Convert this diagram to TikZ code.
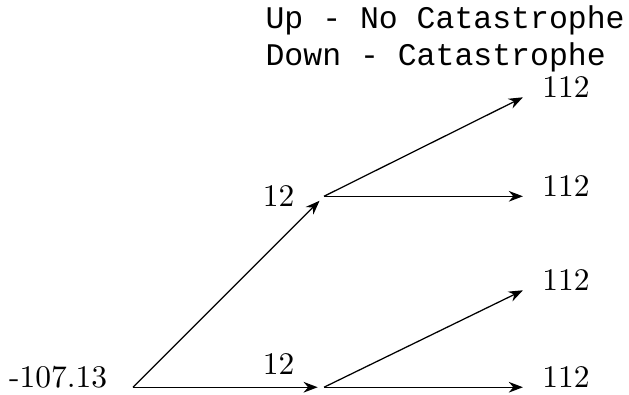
\documentclass[tikz,border=0pt]{standalone}
\usepackage{fontspec}
\setmonofont{Liberation Mono}
\usepackage{tikz}
\usetikzlibrary{positioning,arrows.meta}
\tikzset{
  val/.style={inner sep=0pt},
  legend/.style={inner sep=0pt, font=\ttfamily},
  arrow/.style={-{Stealth[length=4.5pt,width=3.4pt]}},
  inarrow/.style={arrow, shorten >=2pt},
}
\begin{document}
\begin{tikzpicture}
  \useasboundingbox (0,0) rectangle (7.02,4.40);

  % tree points
  \coordinate (r)  at (1.484,0.078);
  \coordinate (u)  at (3.616,2.209);
  \coordinate (d)  at (3.616,0.078);
  \coordinate (uu) at (5.836,3.314);
  \coordinate (ud) at (5.836,2.209);
  \coordinate (du) at (5.836,1.160);
  \coordinate (dd) at (5.836,0.078);

  \node[legend, anchor=base west] (up)   at (2.957,4.084) {Up - No Catastrophe};
  \node[legend, anchor=base west] (down) at (2.957,3.671) {Down - Catastrophe};

  \node[val, left=8pt of r, anchor=base east] (r0) {-107.13};
  \node[val, left=9.2pt of u]                 (u0) {12};
  \node[val, above left=3.8pt and 9.2pt of d] (d0) {12};
  \node[val, right=6pt of uu, anchor=base west] (uu0) {112};
  \node[val, right=6pt of ud, anchor=base west] (ud0) {112};
  \node[val, right=6pt of du, anchor=base west] (du0) {112};
  \node[val, right=6pt of dd, anchor=base west] (dd0) {112};

  \draw[inarrow] (r) -- (u);
  \draw[inarrow] (r) -- (d);
  \draw[arrow] (u) -- (uu);
  \draw[arrow] (u) -- (ud);
  \draw[arrow] (d) -- (du);
  \draw[arrow] (d) -- (dd);
\end{tikzpicture}
\end{document}
